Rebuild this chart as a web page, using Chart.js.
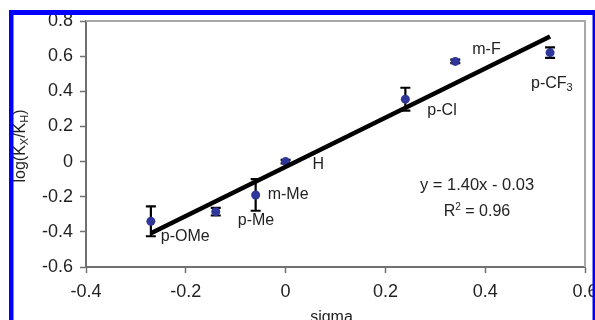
<!DOCTYPE html>
<html>
<head>
<meta charset="utf-8">
<script src="https://cdn.jsdelivr.net/npm/chart.js@4.4.0/dist/chart.umd.min.js"></script>
<style>
html,body{margin:0;padding:0;background:#fff;}
#c{display:block;}
</style>
</head>
<body>
<canvas id="c" width="595" height="320"></canvas>
<script>
// ---- data ----
const substituents = ["p-OMe", "p-Me", "m-Me", "H", "p-Cl", "m-F", "p-CF3"];
const sigma = [-0.27, -0.14, -0.06, 0.00, 0.24, 0.34, 0.53];
const logK = [-0.34, -0.285, -0.19, 0.00, 0.355, 0.57, 0.62];
const logKErr = [0.085, 0.022, 0.09, 0.01, 0.065, 0.01, 0.03];
const fitSlope = 1.40;
const fitIntercept = -0.03;
const fitR2 = 0.96;
const xTickValues = [-0.4, -0.2, 0, 0.2, 0.4, 0.6];
const yTickValues = [-0.6, -0.4, -0.2, 0, 0.2, 0.4, 0.6, 0.8];

// label layout offsets (pixels, relative to point)
const labelOffsets = [[10, 15], [22, 9], [12, 0], [27, 3], [22, 11], [17, -12], [-19, 31]];

const FONT = '"Liberation Sans", Arial, sans-serif';
const xMin = Math.min(...sigma), xMax = Math.max(...sigma);

const points = sigma.map((x, i) => ({x: x, y: logK[i]}));
const trend = [xMin, xMax].map(x => ({x: x, y: fitSlope * x + fitIntercept}));

function fmt(v) {
  const r = Math.round(v * 10) / 10;
  return (Math.abs(r) < 1e-9 ? 0 : r).toString();
}

function drawRich(ctx, parts, x, y, align) {
  // parts: [text, size, dy]
  let w = 0;
  parts.forEach(p => { ctx.font = p[1] + 'px ' + FONT; w += ctx.measureText(p[0]).width; });
  let cx = align === 'center' ? x - w / 2 : x;
  parts.forEach(p => {
    ctx.font = p[1] + 'px ' + FONT;
    ctx.fillText(p[0], cx, y + p[2]);
    cx += ctx.measureText(p[0]).width;
  });
}

const decor = {
  id: 'decor',
  beforeDatasetsDraw(chart) {
    const ctx = chart.ctx, xs = chart.scales.x, ys = chart.scales.y, a = chart.chartArea;
    ctx.save();
    // plot area border (top/right)
    ctx.strokeStyle = '#a8a8a8';
    ctx.lineWidth = 2;
    ctx.beginPath();
    ctx.moveTo(a.left, a.top); ctx.lineTo(a.right, a.top); ctx.lineTo(a.right, a.bottom);
    ctx.stroke();
    // error bars
    ctx.strokeStyle = '#000';
    ctx.lineWidth = 2.2;
    sigma.forEach((x, i) => {
      const px = xs.getPixelForValue(x);
      const t = ys.getPixelForValue(logK[i] + logKErr[i]);
      const b = ys.getPixelForValue(logK[i] - logKErr[i]);
      ctx.beginPath();
      ctx.moveTo(px, t); ctx.lineTo(px, b);
      ctx.moveTo(px - 5, t); ctx.lineTo(px + 5, t);
      ctx.moveTo(px - 5, b); ctx.lineTo(px + 5, b);
      ctx.stroke();
    });
    ctx.restore();
  },
  afterDraw(chart) {
    const ctx = chart.ctx, xs = chart.scales.x, ys = chart.scales.y, a = chart.chartArea;
    ctx.save();
    ctx.fillStyle = '#222';
    ctx.textBaseline = 'middle';
    ctx.textAlign = 'left';
    // substituent labels
    substituents.forEach((n, i) => {
      const px = xs.getPixelForValue(sigma[i]) + labelOffsets[i][0];
      const py = ys.getPixelForValue(logK[i]) + labelOffsets[i][1];
      if (n === 'p-CF3') {
        drawRich(ctx, [['p-CF', 16, 0], ['3', 11, 4]], px, py, 'left');
      } else {
        ctx.font = '16px ' + FONT;
        ctx.fillText(n, px, py);
      }
    });
    // equation
    const ex = 477;
    ctx.font = '16px ' + FONT;
    ctx.textAlign = 'left';
    const eq = 'y = ' + fitSlope.toFixed(2) + 'x - ' + Math.abs(fitIntercept).toFixed(2);
    drawRich(ctx, [[eq, 16.5, 0]], ex, 185, 'center');
    drawRich(ctx, [['R', 16, 0], ['2', 10, -5], [' = ' + fitR2.toFixed(2), 16, 0]], ex, 212, 'center');
    // y title
    ctx.save();
    ctx.translate(21, (a.top + a.bottom) / 2 + 2);
    ctx.rotate(-Math.PI / 2);
    drawRich(ctx, [['log(K', 16, 0], ['X', 11, 4], ['/K', 16, 0], ['H', 11, 4], [')', 16, 0]], 0, 0, 'center');
    ctx.restore();
    // x title
    ctx.textAlign = 'center';
    ctx.textBaseline = 'alphabetic';
    ctx.font = '16px ' + FONT;
    ctx.fillText('sigma', (a.left + a.right) / 2 - 4, 322);
    // blue frame
    ctx.fillStyle = '#0000ff';
    ctx.fillRect(9, 10, 586, 5);
    ctx.fillRect(9, 10, 4.5, 310);
    ctx.fillRect(592.5, 10, 2.5, 310);
    ctx.restore();
  }
};

new Chart(document.getElementById('c'), {
  type: 'scatter',
  data: {
    datasets: [
      {
        type: 'line', data: trend, borderColor: '#000', borderWidth: 4.5,
        pointRadius: 0, fill: false, order: 0, borderCapStyle: 'butt'
      },
      {
        type: 'scatter', data: points, backgroundColor: '#2f3699', borderColor: '#2f3699',
        pointRadius: 4.5, borderWidth: 0, order: 1
      }
    ]
  },
  options: {
    responsive: false,
    animation: false,
    events: [],
    layout: {padding: {left: 0, right: 10, top: 21, bottom: 0}},
    plugins: {legend: {display: false}, tooltip: {enabled: false}},
    scales: {
      x: {
        type: 'linear', min: xTickValues[0], max: xTickValues[xTickValues.length - 1],
        afterBuildTicks: s => { s.ticks = xTickValues.map(v => ({value: v})); },
        afterFit: s => { s.height = 53; s.paddingLeft = 0; s.paddingRight = 0; },
        grid: {drawOnChartArea: false, tickLength: 6, tickColor: '#707070', tickWidth: 1.5},
        border: {color: '#707070', width: 2},
        ticks: {color: '#222', font: {family: FONT, size: 18}, padding: 8, callback: v => fmt(v), maxRotation: 0}
      },
      y: {
        type: 'linear', min: yTickValues[0], max: yTickValues[yTickValues.length - 1],
        afterBuildTicks: s => { s.ticks = yTickValues.map(v => ({value: v})); },
        afterFit: s => { s.width = 86; s.paddingTop = 0; s.paddingBottom = 0; },
        grid: {drawOnChartArea: false, tickLength: 6, tickColor: '#707070', tickWidth: 1.5},
        border: {color: '#707070', width: 2},
        ticks: {color: '#222', font: {family: FONT, size: 18}, padding: 7, callback: v => fmt(v)}
      }
    }
  },
  plugins: [decor]
});
</script>
</body>
</html>
